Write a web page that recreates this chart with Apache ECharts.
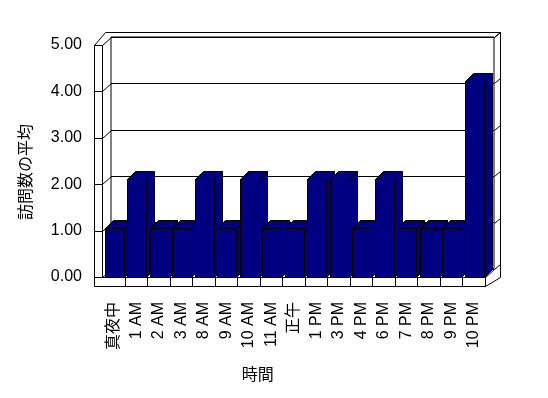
<!DOCTYPE html>
<html>
<head>
<meta charset="utf-8">
<script src="https://cdn.jsdelivr.net/npm/echarts@6/dist/echarts.min.js"></script>
<style>
html,body{margin:0;padding:0;background:#fff;}
#chart{width:548px;height:398px;}
</style>
</head>
<body>
<div id="chart"></div>
<script>
const categories = ['真夜中','1 AM','2 AM','3 AM','8 AM','9 AM','10 AM','11 AM','正午','1 PM','3 PM','4 PM','6 PM','7 PM','8 PM','9 PM','10 PM'];
const visits = [1,2,1,1,2,1,2,1,1,2,2,1,2,1,1,1,4];
const yTicks = [0,1,2,3,4,5];
const yAxisTitle = '訪問数の平均';
const xAxisTitle = '時間';

const FONT = '"Liberation Sans", "Noto Sans CJK JP", sans-serif';
const BAR_COLOR = '#000080';
const DX = 9, DY = -8;      // wall depth
const BDX = 8, BDY = -8;    // bar depth
const c = v => Math.round(v) + 0.5;

function ln(x1, y1, x2, y2) {
  return { type: 'line', shape: { x1: c(x1), y1: c(y1), x2: c(x2), y2: c(y2) },
    style: { stroke: '#000', lineWidth: 1 } };
}

function renderFrame(params, api) {
  const cs = params.coordSys;
  const L = cs.x, T = cs.y, B = cs.y + cs.height, R = cs.x + cs.width;
  const band = cs.width / categories.length;
  const ow = 8;  // wall thickness
  const ch = 9;  // floor thickness
  const els = [];
  els.push(ln(L - ow, T, L - ow, B + ch));
  els.push(ln(L, T, L, B));
  els.push(ln(L - ow, T, L, T));
  els.push(ln(L - ow, T, L - ow + 11, T - 13));
  els.push(ln(L - ow + 11, T - 13, R + 15, T - 13));
  els.push(ln(R + 15, T - 13, R + 15, B));
  els.push(ln(R + DX, T + DY, R + 15, T - 13));
  els.push(ln(L - ow, B + ch, R, B + ch));
  els.push(ln(L, B, R, B));
  els.push(ln(R, B, R, B + ch));
  els.push(ln(R, B, R + DX, B + DY));
  els.push(ln(R, B + ch, R + 15, B));
  for (let k = 1; k < categories.length; k++) {
    const x = L + band * k;
    els.push(ln(x, B, x, B + ch));
  }
  yTicks.forEach(v => {
    const y = api.coord([0, v])[1];
    els.push(ln(L - ow, y, L, y));
    els.push(ln(L, y, L + DX, y + DY));
    els.push(ln(R + DX, y + DY, R + 15, y + DY - 5));
  });
  return { type: 'group', children: els };
}

function renderBar(params, api) {
  const i = api.value(0), v = api.value(1);
  const base = api.coord([i, 0]);
  const top = api.coord([i, v]);
  const band = api.size([1, 0])[0];
  const x0 = Math.round(base[0] - band / 2 + band * 0.11) + 0.5;
  const w = Math.round(band * 0.845);
  const x1 = x0 + w;
  const yt = Math.round(top[1]) + 0.5;
  const yb = Math.round(base[1]) + 0.5;
  const st = { fill: BAR_COLOR, stroke: '#000', lineWidth: 1 };
  return {
    type: 'group',
    children: [
      { type: 'polygon', shape: { points: [[x1, yt], [x1 + BDX, yt + BDY], [x1 + BDX, yb + BDY], [x1, yb]] }, style: st },
      { type: 'polygon', shape: { points: [[x0, yt], [x0 + BDX, yt + BDY], [x1 + BDX, yt + BDY], [x1, yt]] }, style: st },
      { type: 'rect', shape: { x: x0, y: yt, width: w, height: yb - yt }, style: st }
    ]
  };
}

const chart = echarts.init(document.getElementById('chart'), null, { renderer: 'canvas' });
chart.setOption({
  backgroundColor: '#fff',
  animation: false,
  grid: [
    { left: 111, top: 37, width: 383, height: 232, show: true, borderColor: '#000', borderWidth: 1, backgroundColor: 'transparent' },
    { left: 102.5, top: 32, width: 382.5, height: 245 },
    { left: 102, top: 45, width: 383, height: 232 }
  ],
  xAxis: [
    { type: 'category', gridIndex: 0, data: categories, show: false },
    { type: 'category', gridIndex: 1, data: categories,
      axisLine: { show: false }, axisTick: { show: false },
      axisLabel: { rotate: 90, margin: 25, interval: 0, fontSize: 16, color: '#000', fontFamily: FONT },
      name: xAxisTitle, nameLocation: 'middle', nameGap: 91,
      nameTextStyle: { fontSize: 16, color: '#000', fontFamily: FONT, padding: [0, 72, 0, 0] } },
    { type: 'category', gridIndex: 2, data: categories, show: false }
  ],
  yAxis: [
    { type: 'value', gridIndex: 0, min: 0, max: 5, interval: 1,
      axisLine: { show: false }, axisTick: { show: false }, axisLabel: { show: false },
      splitLine: { show: true, lineStyle: { color: '#000', width: 1 } } },
    { type: 'value', gridIndex: 1, min: 0, max: 5, interval: 1, show: false },
    { type: 'value', gridIndex: 2, min: 0, max: 5, interval: 1,
      axisLine: { show: false }, axisTick: { show: false }, splitLine: { show: false },
      axisLabel: { margin: 20, fontSize: 16, color: '#000', fontFamily: FONT, formatter: v => v.toFixed(2) },
      name: yAxisTitle, nameLocation: 'middle', nameRotate: 90, nameGap: 67,
      nameTextStyle: { fontSize: 16, color: '#000', fontFamily: FONT, padding: [0, 22, 0, 0] } }
  ],
  series: [
    { type: 'custom', xAxisIndex: 2, yAxisIndex: 2, renderItem: renderFrame, data: [[0, 0]], silent: true, z: 1 },
    { type: 'custom', xAxisIndex: 1, yAxisIndex: 1, renderItem: renderBar,
      data: visits.map((v, i) => [i, v]), z: 2 }
  ]
});
</script>
</body>
</html>
